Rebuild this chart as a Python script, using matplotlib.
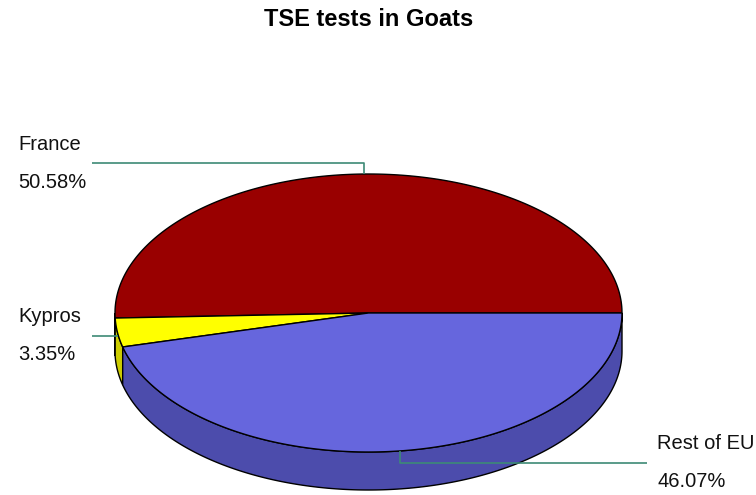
import numpy as np
import matplotlib.pyplot as plt
from matplotlib.patches import Polygon

plt.rcParams['font.family'] = ['Liberation Sans', 'DejaVu Sans']

labels = ['France', 'Kypros', 'Rest of EU']
shares = [50.58, 3.35, 46.07]
top_colors = ['#990000', '#ffff00', '#6666dd']
side_colors = ['#7a0000', '#cccc00', '#4c4cac']

# pie geometry, in pixel units of the canvas
cx, cy = 368.5, 313.0
rx, ry = 253.5, 139.0
depth = 38.0
line_color = '#3d8a76'


def ellipse_pts(a0, a1, n=200):
    t = np.radians(np.linspace(a0, a1, n))
    return cx + rx * np.cos(t), cy - ry * np.sin(t)


fig = plt.figure(figsize=(7.56, 4.95), dpi=100)
ax = fig.add_axes([0, 0, 1, 1])
ax.set_xlim(0, 756)
ax.set_ylim(495, 0)
ax.axis('off')

fracs = np.array(shares) / np.sum(shares)
edges = np.concatenate([[0], np.cumsum(fracs) * 360])

# side walls, only the front half (180..360 deg) is visible
for i in range(len(shares)):
    a0, a1 = max(edges[i], 180), min(edges[i + 1], 360)
    if a1 <= a0:
        continue
    x, y = ellipse_pts(a0, a1)
    pts = np.column_stack([np.r_[x, x[::-1]], np.r_[y, y[::-1] + depth]])
    ax.add_patch(Polygon(pts, closed=True, facecolor=side_colors[i],
                         edgecolor='black', lw=1))

# top faces
for i in range(len(shares)):
    x, y = ellipse_pts(edges[i], edges[i + 1])
    pts = np.column_stack([np.r_[cx, x], np.r_[cy, y]])
    ax.add_patch(Polygon(pts, closed=True, facecolor=top_colors[i],
                         edgecolor='black', lw=1))

# leader lines and labels
for i in range(len(shares)):
    mid = np.radians((edges[i] + edges[i + 1]) / 2)
    px = cx + rx * np.cos(mid)
    py = cy - ry * np.sin(mid)
    left = np.cos(mid) < 0.05 if abs(np.sin(mid)) > 0.5 else np.cos(mid) < 0
    if abs(np.sin(mid)) > 0.5:
        ly = py - 11 if np.sin(mid) > 0 else py + 12
        xs = [px, px, 92 if left else 647]
        ys = [py, ly, ly]
    else:
        ly = py + 3
        xs = [px, 92 if left else 647]
        ys = [ly, ly]
    ax.plot(xs, ys, color=line_color, lw=1.2, solid_capstyle='butt')
    tx = 18 if left else 657
    ax.text(tx, ly - 19, labels[i], fontsize=14.5, va='center', ha='left',
            color='#111111')
    ax.text(tx, ly + 19, f'{shares[i]:.2f}%', fontsize=14.5, va='center',
            ha='left', color='#111111')

ax.text(369, 19, 'TSE tests in Goats', fontsize=17, fontweight='bold',
        ha='center', va='center')

fig.savefig('out.png', dpi=100)
